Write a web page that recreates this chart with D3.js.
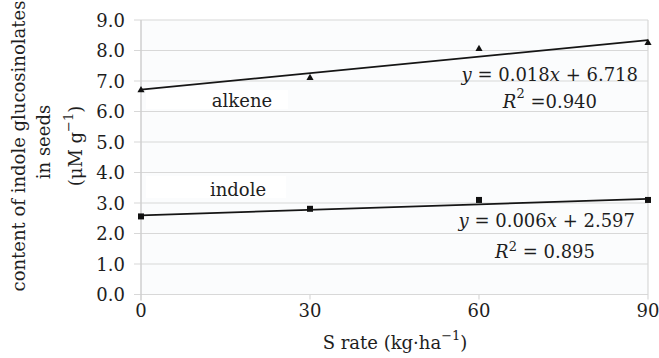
<!DOCTYPE html>
<html>
<head>
<meta charset="utf-8">
<script src="https://cdn.jsdelivr.net/npm/d3@7"></script>
<style>
  body { margin: 0; background: #fff; }
  svg text { font-family: "DejaVu Serif", serif; fill: #1e1e1e; }
</style>
</head>
<body>
<svg id="chart" width="659" height="358"></svg>
<script>
// S rate (kg/ha)
var sRates = [0, 30, 60, 90];
var alkene = [6.70, 7.10, 8.05, 8.25];
var indole = [2.56, 2.81, 3.10, 3.10];
// fitted trend lines (slope, intercept)
var alkeneFit = [0.018, 6.718];
var indoleFit = [0.006, 2.597];
var yTicks = [0, 1, 2, 3, 4, 5, 6, 7, 8, 9];
var xTicks = [0, 30, 60, 90];

var FS = "18px";
var svg = d3.select("#chart");
var x = d3.scaleLinear().domain([0, 90]).range([141, 648]);
var y = d3.scaleLinear().domain([0, 9]).range([294.5, 20]);

// plot background
svg.append("rect")
  .attr("x", x(0)).attr("y", y(9))
  .attr("width", x(90) - x(0)).attr("height", y(0) - y(9))
  .attr("fill", "#fbfcfd");

// gridlines
svg.append("g").selectAll("line")
  .data(yTicks)
  .enter()
  .append("line")
  .attr("x1", x(0) - 7).attr("x2", x(90))
  .attr("y1", function(d) { return y(d); })
  .attr("y2", function(d) { return y(d); })
  .attr("stroke", "#d8d8d8")
  .attr("stroke-width", 1.2);

// x ticks
svg.append("g").selectAll("line")
  .data(xTicks.slice(1, 3))
  .enter()
  .append("line")
  .attr("x1", function(d) { return x(d); })
  .attr("x2", function(d) { return x(d); })
  .attr("y1", y(0)).attr("y2", y(0) + 5)
  .attr("stroke", "#d8d8d8").attr("stroke-width", 1.2);

// axis + right border
svg.append("line")
  .attr("x1", x(0)).attr("x2", x(0)).attr("y1", y(9)).attr("y2", y(0) + 6)
  .attr("stroke", "#cfcfcf").attr("stroke-width", 1.5);
svg.append("line")
  .attr("x1", x(90)).attr("x2", x(90)).attr("y1", y(9)).attr("y2", y(0) + 5)
  .attr("stroke", "#d8d8d8").attr("stroke-width", 1.2);

// tick labels
svg.append("g").selectAll("text")
  .data(yTicks)
  .enter()
  .append("text")
  .text(function(d) { return d.toFixed(1); })
  .attr("x", 125)
  .attr("y", function(d) { return y(d) + 6.5; })
  .attr("text-anchor", "end")
  .style("font-size", FS);

svg.append("g").selectAll("text")
  .data(xTicks)
  .enter()
  .append("text")
  .text(function(d) { return d; })
  .attr("x", function(d) { return x(d); })
  .attr("y", 317)
  .attr("text-anchor", "middle")
  .style("font-size", FS);

// series labels with white boxes
function label(txt, bx, bw, by, bh, cx, base) {
  svg.append("rect")
    .attr("x", bx).attr("y", by)
    .attr("width", bw).attr("height", bh)
    .attr("fill", "#fff");
  svg.append("text").text(txt)
    .attr("x", cx).attr("y", base)
    .attr("text-anchor", "middle")
    .style("font-size", FS);
}
label("alkene", 146, 142, 90, 19, 242, 107);
label("indole", 146, 140, 176, 22, 238, 196);

// trend lines
function trend(fit) {
  var line = d3.line()
    .x(function(d) { return x(d); })
    .y(function(d) { return y(fit[0] * d + fit[1]); });
  svg.append("path")
    .datum([0, 90])
    .attr("d", line)
    .attr("fill", "none")
    .attr("stroke", "#151515")
    .attr("stroke-width", 1.7);
}
trend(alkeneFit);
trend(indoleFit);

// markers
var tri = d3.symbol().type(d3.symbolTriangle).size(22);
svg.append("g").selectAll("path")
  .data(alkene)
  .enter()
  .append("path")
  .attr("d", tri)
  .attr("transform", function(d, i) { return "translate(" + x(sRates[i]) + "," + y(d) + ")"; })
  .attr("fill", "#111");

svg.append("g").selectAll("rect")
  .data(indole)
  .enter()
  .append("rect")
  .attr("x", function(d, i) { return x(sRates[i]) - 3; })
  .attr("y", function(d) { return y(d) - 3; })
  .attr("width", 6).attr("height", 6)
  .attr("fill", "#111");

// equations
function eq(slope, intercept, r2, ex, ey, rx, ry, tight) {
  var t = svg.append("text").attr("x", ex).attr("y", ey).attr("text-anchor", "end")
    .style("font-size", FS);
  t.append("tspan").text("y").style("font-style", "italic");
  t.append("tspan").text(" = " + slope);
  t.append("tspan").text("x").style("font-style", "italic");
  t.append("tspan").text(" + " + intercept);

  var r = svg.append("text").attr("x", rx).attr("y", ry).attr("text-anchor", "end")
    .style("font-size", FS);
  r.append("tspan").text("R").style("font-style", "italic");
  r.append("tspan").text("2").attr("dy", tight ? -7 : -10).style("font-size", "13px");
  r.append("tspan").text(tight ? " = " + r2 : " =" + r2).attr("dy", tight ? 7 : 10);
}
eq("0.018", "6.718", "0.940", 638, 81, 597, 108, false);
eq("0.006", "2.597", "0.895", 635, 227, 595, 258, true);

// axis titles
var xt = svg.append("text").attr("x", 395).attr("y", 349).attr("text-anchor", "middle")
  .style("font-size", FS);
xt.append("tspan").text("S rate (kg\u00b7ha");
xt.append("tspan").text("\u22121").attr("dy", -9).style("font-size", "13px");
xt.append("tspan").text(")").attr("dy", 9);

var yt = svg.append("g").attr("transform", "translate(0,146) rotate(-90)");
yt.append("text").text("content of indole glucosinolates")
  .attr("x", 0).attr("y", 25).attr("text-anchor", "middle").style("font-size", FS);
yt.append("text").text("in seeds")
  .attr("x", 4).attr("y", 50).attr("text-anchor", "middle").style("font-size", FS);
var u = yt.append("text").attr("x", 0).attr("y", 82).attr("text-anchor", "middle")
  .style("font-size", FS);
u.append("tspan").text("(\u03bcM g");
u.append("tspan").text("\u22121").attr("dy", -9).style("font-size", "13px");
u.append("tspan").text(")").attr("dy", 9);
</script>
</body>
</html>
